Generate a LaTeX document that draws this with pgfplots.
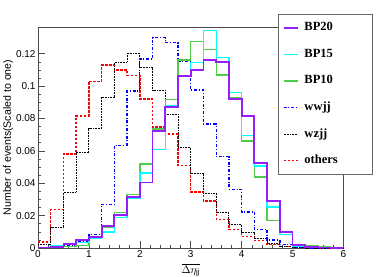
\documentclass[border=0pt]{standalone}
\usepackage{fontspec}
\setmainfont{Liberation Sans}
\newfontfamily\legfont{Liberation Serif}
\usepackage{pgfplots}
\pgfplotsset{compat=1.18}
\definecolor{bpviolet}{RGB}{150,30,250}
\definecolor{bpcyan}{RGB}{0,255,255}
\definecolor{bpgreen}{RGB}{80,205,70}
\begin{document}
\begin{tikzpicture}
\begin{axis}[
 name=ax, at={(0,0)}, anchor=south west,
 scale only axis, width=305.5pt, height=221pt,
 xmin=0, xmax=6, ymin=0, ymax=0.1365,
 axis line style={black!70, line width=0.8pt},
 tick align=inside, xtick pos=bottom, ytick pos=left,
 xtick={0,1,2,3,4,5,6}, ytick={0,0.02,0.04,0.06,0.08,0.1,0.12},
 minor x tick num=4, minor y tick num=3,
 major tick length=7pt, minor tick length=3.5pt,
 tick style={black!70, line width=0.6pt},
 ticklabel style={font=\fontsize{10}{12}\selectfont},
 yticklabel style={/pgf/number format/fixed, /pgf/number format/precision=2, /pgf/number format/assume math mode=true, xshift=1pt},
 xticklabel style={/pgf/number format/assume math mode=true, yshift=1pt},
 scaled y ticks=false,
 ylabel={Number of events(Scaled to one)},
 every axis y label/.style={at={(axis description cs:-0.098,0.5)}, rotate=90, anchor=center, font=\fontsize{10.6}{12}\selectfont},
 xlabel={$\overline{\Delta\eta_{\mathrm{jj}}}$},
 every axis x label/.style={at={(axis description cs:0.5,0)}, anchor=north, yshift=-12pt, font=\fontsize{11}{12}\selectfont},
 legend style={at={(axis description cs:0.7856,1.060)}, anchor=north west, draw=black!60, line width=0.8pt, fill=white,
   inner xsep=4.3pt, inner ysep=7.5pt, row sep=14.6pt, column sep=5.6pt,
   font=\legfont\bfseries\fontsize{12.5}{14}\selectfont,
   nodes={inner sep=0pt, text height=9pt, text depth=3pt, text width=64pt, align=left}},
 legend cell align=left,
 reverse legend,
 legend image code/.code={\draw[#1] (0pt,0pt) -- (14.4pt,0pt);},
]
\addplot[const plot, mark=none, color=red, line width=1.4pt, dash pattern=on 2.5pt off 1.5pt] coordinates {
(0,0.0037)(0.25,0.0237)(0.5,0.058)(0.75,0.0816)(1,0.103)(1.25,0.113)(1.5,0.110)(1.75,0.1066)(2,0.092)(2.25,0.0748)(2.5,0.0703)(2.75,0.0511)(3,0.0346)(3.25,0.029)(3.5,0.0177)(3.75,0.0116)(4,0.0072)(4.25,0.0048)(4.5,0.002)(4.75,0.001)(5,0.0003)(5.25,0)(5.5,0)(5.75,0)(6,0)};
\addlegendentry{others}
\addplot[const plot, mark=none, color=black, line width=0.9pt, dash pattern=on 0.8pt off 0.8pt] coordinates {
(0,0.002)(0.25,0.0124)(0.5,0.0346)(0.75,0.0588)(1,0.0738)(1.25,0.0932)(1.5,0.1147)(1.75,0.1202)(2,0.1113)(2.25,0.0975)(2.5,0.0827)(2.75,0.0621)(3,0.046)(3.25,0.034)(3.5,0.0217)(3.75,0.0145)(4,0.0093)(4.25,0.0058)(4.5,0.0027)(4.75,0.001)(5,0.0003)(5.25,0)(5.5,0)(5.75,0)(6,0)};
\addlegendentry{wzjj}
\addplot[const plot, mark=none, color=blue, line width=1.3pt, dash pattern=on 3pt off 1.8pt on 1pt off 1.8pt] coordinates {
(0,0.0005)(0.25,0.001)(0.5,0.0015)(0.75,0.004)(1,0.0083)(1.25,0.027)(1.5,0.0635)(1.75,0.097)(2,0.1167)(2.25,0.1299)(2.5,0.1268)(2.75,0.1155)(3,0.0975)(3.25,0.0765)(3.5,0.0563)(3.75,0.0363)(4,0.0223)(4.25,0.0114)(4.5,0.005)(4.75,0.002)(5,0.0005)(5.25,0)(5.5,0)(5.75,0)(6,0)};
\addlegendentry{wwjj}
\addplot[const plot, mark=none, color=bpgreen, line width=1.4pt] coordinates {
(0,0.0003)(0.25,0.0005)(0.5,0.0008)(0.75,0.0017)(1,0.0058)(1.25,0.013)(1.5,0.0219)(1.75,0.033)(2,0.0518)(2.25,0.0735)(2.5,0.0918)(2.75,0.1161)(3,0.1277)(3.25,0.1227)(3.5,0.1068)(3.75,0.093)(4,0.0662)(4.25,0.0439)(4.5,0.0171)(4.75,0.0083)(5,0.0015)(5.25,0.0012)(5.5,0.0005)(5.75,0)(6,0)};
\addlegendentry{BP10}
\addplot[const plot, mark=none, color=bpcyan, line width=1.4pt] coordinates {
(0,0.0003)(0.25,0.0015)(0.5,0.002)(0.75,0.0035)(1,0.0058)(1.25,0.0099)(1.5,0.0188)(1.75,0.0305)(2,0.0464)(2.25,0.061)(2.5,0.0882)(2.75,0.1058)(3,0.1147)(3.25,0.1342)(3.5,0.1177)(3.75,0.0961)(4,0.0695)(4.25,0.0507)(4.5,0.0254)(4.75,0.0083)(5,0.0012)(5.25,0.0005)(5.5,0.0003)(5.75,0)(6,0)};
\addlegendentry{BP15}
\addplot[const plot, mark=none, color=bpviolet, line width=1.8pt] coordinates {
(0,0.0003)(0.25,0.0006)(0.5,0.0027)(0.75,0.0048)(1,0.0068)(1.25,0.0134)(1.5,0.0205)(1.75,0.0316)(2,0.0404)(2.25,0.0725)(2.5,0.0872)(2.75,0.1062)(3,0.1099)(3.25,0.1161)(3.5,0.1147)(3.75,0.092)(4,0.0815)(4.25,0.0526)(4.5,0.029)(4.75,0.0099)(5,0.0021)(5.25,0.0008)(5.5,0.0003)(5.75,0)(6,0)};
\addlegendentry{BP20}
\end{axis}
\pgfresetboundingbox
\path ([xshift=-38pt,yshift=-28pt]ax.south west) rectangle ([xshift=38.5pt,yshift=27pt]ax.north east);
\end{tikzpicture}
\end{document}
